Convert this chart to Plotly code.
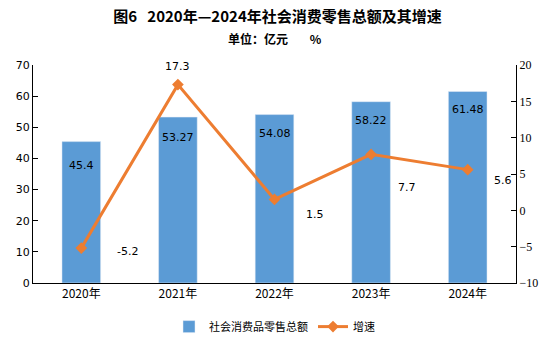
import plotly.graph_objects as go

years = ["2020年", "2021年", "2022年", "2023年", "2024年"]
sales = [45.4, 53.27, 54.08, 58.22, 61.48]
growth = [-5.2, 17.3, 1.5, 7.7, 5.6]
sales_labels = ["45.4", "53.27", "54.08", "58.22", "61.48"]
growth_labels = ["-5.2", "17.3", "1.5", "7.7", "5.6"]

# label offsets (styling)
bar_label_dy = [-24, -20, -19, -19, -18]
line_label_dx = [46, 0, 40, 36, 35]
line_label_dy = [-3, 18, -15, -33, -11]

fig = go.Figure()
fig.add_trace(go.Bar(
    x=years, y=sales, name="社会消费品零售总额",
    marker=dict(color="#5B9BD5"), width=0.4,
))
fig.add_trace(go.Scatter(
    x=years, y=growth, name="增速", yaxis="y2", mode="lines+markers",
    line=dict(color="#ED7D31", width=3),
    marker=dict(symbol="diamond", size=9, color="#ED7D31"),
))

annotations = []
for i, (x, v, t) in enumerate(zip(years, sales, sales_labels)):
    annotations.append(dict(x=x, y=v, xref="x", yref="y", text=t, showarrow=False,
                            yshift=bar_label_dy[i], font=dict(family="DejaVu Sans", size=11, color="#000")))
for i, (x, v, t) in enumerate(zip(years, growth, growth_labels)):
    annotations.append(dict(x=x, y=v, xref="x", yref="y2", text=t, showarrow=False,
                            xshift=line_label_dx[i], yshift=line_label_dy[i],
                            font=dict(family="DejaVu Sans", size=11, color="#000")))
annotations.append(dict(x=0.5, y=1, xref="paper", yref="paper", yanchor="middle",
                        text="<b>单位：亿元&nbsp;&nbsp;&nbsp;&nbsp;&nbsp;&nbsp;&nbsp;&nbsp;%</b>",
                        showarrow=False, yshift=27,
                        font=dict(family="Noto Sans CJK SC", size=12, color="#000")))

fig.update_layout(
    width=555, height=353,
    margin=dict(l=33, r=39, t=65, b=68),
    paper_bgcolor="white", plot_bgcolor="white",
    title=dict(text="<b>图6&nbsp;&nbsp;&nbsp;2020年—2024年社会消费零售总额及其增速</b>", x=0.5, xanchor="center",
               y=0.952, yanchor="middle",
               font=dict(family="Noto Sans CJK SC", size=15, color="#000")),
    xaxis=dict(showline=True, linecolor="#000", linewidth=1, ticks="", showgrid=False,
               tickfont=dict(family="Noto Sans CJK SC", size=12, color="#000")),
    yaxis=dict(range=[0, 70], dtick=10, showline=True, linecolor="#000", linewidth=1,
               ticks="inside", ticklen=5, tickcolor="#000", showgrid=False, zeroline=False,
               tickfont=dict(family="DejaVu Sans", size=11, color="#000")),
    yaxis2=dict(range=[-10, 20], dtick=5, overlaying="y", side="right", showline=True,
                linecolor="#000", linewidth=1, ticks="inside", ticklen=5, tickcolor="#000",
                showgrid=False, zeroline=False,
                tickfont=dict(family="Liberation Serif", size=12, color="#000")),
    legend=dict(orientation="h", x=0.5, xanchor="center", y=-0.2, yanchor="middle",
                font=dict(family="Noto Sans CJK SC", size=11, color="#000")),
    annotations=annotations,
    showlegend=True,
)

fig.write_html("out.html")
